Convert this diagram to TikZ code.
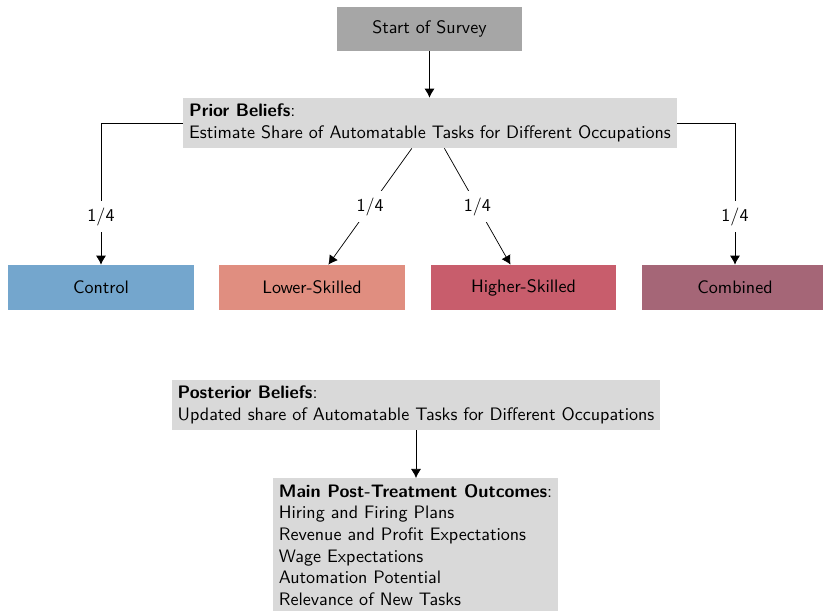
\documentclass[tikz,border=0pt]{standalone}
\usetikzlibrary{arrows.meta}
\definecolor{startgray}{HTML}{A6A6A6}
\definecolor{beliefgray}{HTML}{D9D9D9}
\definecolor{ctrlblue}{HTML}{74A6CD}
\definecolor{lowred}{HTML}{E08E80}
\definecolor{highred}{HTML}{C85D6C}
\definecolor{combmauve}{HTML}{A56677}
\begin{document}
\begin{tikzpicture}[x=0.554pt, y=-0.554pt, font=\sffamily,
  textbox/.style={fill=beliefgray, align=left, inner sep=0.3333em},
  armbox/.style={minimum width=103pt, minimum height=24.9pt, inner sep=0pt},
  arr/.style={-{Latex[length=5pt,width=5.5pt]}},
  share/.style={fill=white}]
\path[use as bounding box, clip] (0,0) rectangle (823,611);

% survey flow
\node[fill=startgray, minimum width=102.5pt, minimum height=24.4pt, inner sep=0pt]
  (start) at (429.5,29) {Start of Survey};
\node[textbox] (prior) at (430,123)
  {\textbf{Prior Beliefs}:\\Estimate Share of Automatable Tasks for Different Occupations};

% treatment arms
\node[armbox, fill=ctrlblue]  (control)  at (101,287.5)   {Control};
\node[armbox, fill=lowred]    (lower)    at (312,287.5)   {Lower-Skilled};
\node[armbox, fill=highred]   (higher)   at (523.5,287.5) {Higher-Skilled};
\node[armbox, fill=combmauve] (combined) at (735,287.5)   {Combined};

% outcomes
\node[textbox] (post) at (416,405)
  {\textbf{Posterior Beliefs}:\\Updated share of Automatable Tasks for Different Occupations};
\node[textbox, anchor=north] (main) at (415.5,478)
  {\textbf{Main Post-Treatment Outcomes}:\\Hiring and Firing Plans\\Revenue and Profit Expectations\\Wage Expectations\\Automation Potential\\Relevance of New Tasks};

% connectors
\draw[arr] (start.south) -- (start.south |- prior.north);
\draw[arr] (prior.west) -| node[share, pos=0.83] {1/4} (control.north);
\draw[arr] (prior) -- node[share] {1/4} (lower);
\draw[arr] (prior) -- node[share] {1/4} (higher);
\draw[arr] (prior.east) -| node[share, pos=0.83] {1/4} (combined.north);
\draw[arr] (post.south) -- (post.south |- main.north);
\end{tikzpicture}
\end{document}
